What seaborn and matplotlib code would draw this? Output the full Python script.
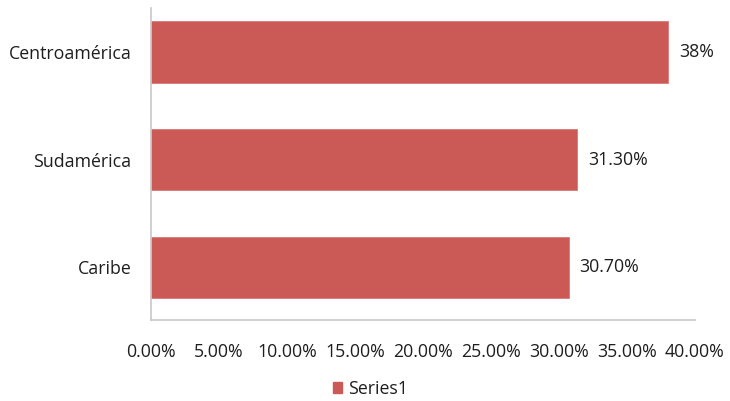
import matplotlib
matplotlib.use("Agg")
from matplotlib import pyplot as plt
from matplotlib.patches import Patch
import pandas as pd
import seaborn as sns

# datos
regiones = ['Centroamérica', 'Sudamérica', 'Caribe']
valores = [38.0, 31.3, 30.7]
etiquetas = ['38%', '31.30%', '30.70%']
ticks = [0, 5, 10, 15, 20, 25, 30, 35, 40]
serie = 'Series1'

df = pd.DataFrame({'region': regiones, 'valor': valores})

sns.set_theme(style='white')
plt.rcParams['font.family'] = ['Open Sans', 'DejaVu Sans']

color = '#CB5A57'
txt = '#1E1E1E'
fs = 12.8
fig = plt.figure(figsize=(7.3, 4.01), dpi=100)
ax = fig.add_axes([0.207, 0.202, 0.745, 0.778])

sns.barplot(data=df, x='valor', y='region', color=color, width=0.57,
            saturation=1, ax=ax, edgecolor='#D97875', linewidth=0.6)

ax.set_xlim(0, 40)
ax.set_ylim(2.49, -0.41)
ax.set_xticks(ticks)
ax.set_xticklabels(['{:.2f}%'.format(t) for t in ticks])
ax.set_xlabel('')
ax.set_ylabel('')
ax.tick_params(axis='x', length=0, pad=16.5, labelsize=fs, colors=txt)
ax.tick_params(axis='y', length=0, pad=14, labelsize=fs, colors=txt)

for s in ['top', 'right']:
    ax.spines[s].set_visible(False)
for s in ['left', 'bottom']:
    ax.spines[s].set_color('#C8C8C8')
    ax.spines[s].set_linewidth(1.2)

for i, (v, t) in enumerate(zip(valores, etiquetas)):
    ax.annotate(t, (v, i), xytext=(8, 0), textcoords='offset points',
                va='center', ha='left', fontsize=fs, color=txt)

fig.legend(handles=[Patch(color=color, label=serie)], loc='center',
           bbox_to_anchor=(0.507, 0.03), frameon=False, fontsize=fs,
           handlelength=0.55, handleheight=0.55, handletextpad=0.3,
           labelcolor=txt, borderpad=0.2)

fig.savefig('out.png', dpi=100)
